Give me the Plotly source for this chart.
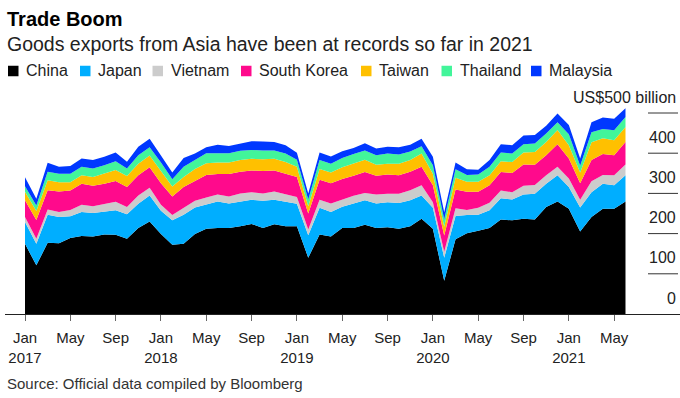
import plotly.graph_objects as go

# ---------------- data ----------------
months = list(range(54))  # Jan 2017 .. Jun 2021 (month index)

china = [175, 121, 177, 176, 189, 194, 193, 198, 197, 187, 214, 230,
         199, 172, 175, 199, 212, 214, 214, 218, 224, 214, 223, 218,
         218, 140, 198, 193, 214, 214, 222, 214, 216, 212, 218, 237,
         212, 83, 186, 201, 207, 214, 235, 233, 237, 235, 266, 280,
         262, 205, 241, 262, 262, 280]
japan = [54, 54, 70, 65, 54, 60, 58, 57, 61, 61, 60, 65,
         58, 61, 72, 66, 61, 66, 61, 61, 60, 68, 61, 61,
         56, 56, 66, 61, 53, 61, 61, 61, 62, 64, 65, 58,
         52, 57, 58, 45, 40, 44, 53, 52, 60, 64, 58, 65,
         54, 60, 62, 62, 58, 65]
vietnam = [12, 12, 13, 13, 16, 18, 17, 19, 21, 18, 21, 19,
           15, 13, 17, 17, 17, 17, 17, 21, 19, 18, 21, 19,
           17, 14, 20, 21, 17, 19, 18, 22, 21, 23, 25, 25,
           14, 15, 19, 13, 17, 19, 19, 18, 22, 22, 21, 21,
           21, 19, 27, 22, 25, 27]
south_korea = [42, 47, 48, 51, 48, 52, 51, 50, 52, 50, 50, 51,
               53, 46, 52, 50, 56, 51, 56, 54, 54, 56, 52, 51,
               50, 40, 50, 50, 52, 50, 52, 47, 48, 46, 46, 46,
               42, 40, 47, 45, 40, 43, 46, 48, 53, 50, 50, 56,
               50, 41, 53, 52, 50, 56]
taiwan = [21, 22, 25, 23, 21, 21, 22, 25, 27, 27, 29, 29,
          30, 25, 25, 29, 29, 29, 29, 29, 29, 29, 29, 29,
          25, 18, 27, 27, 29, 31, 31, 27, 27, 29, 29, 33,
          29, 22, 29, 25, 25, 25, 27, 27, 30, 32, 33, 36,
          33, 27, 44, 39, 37, 37]
thailand = [14, 14, 21, 21, 21, 21, 21, 21, 22, 19, 21, 21,
            22, 18, 25, 21, 25, 23, 23, 23, 22, 22, 21, 21,
            18, 17, 22, 22, 23, 23, 23, 24, 25, 23, 21, 18,
            21, 18, 21, 17, 18, 21, 22, 21, 20, 21, 21, 19,
            27, 17, 25, 23, 25, 25]
malaysia = [22, 17, 22, 17, 19, 21, 21, 21, 22, 17, 21, 21,
            17, 17, 22, 17, 15, 21, 18, 18, 22, 22, 21, 21,
            17, 15, 19, 18, 17, 15, 18, 17, 17, 18, 17, 19,
            21, 18, 17, 14, 12, 17, 20, 21, 22, 21, 19, 22,
            23, 18, 25, 29, 29, 22]

series_names = ["China", "Japan", "Vietnam", "South Korea", "Taiwan", "Thailand", "Malaysia"]
series_values = [china, japan, vietnam, south_korea, taiwan, thailand, malaysia]
series_colors = ["#000000", "#00AEFF", "#CCCCCC", "#FF0A8C", "#FFC000", "#42F59A", "#0038FF"]

tick_vals = list(range(0, 53, 4))
tick_text = ["Jan<br>2017", "May", "Sep", "Jan<br>2018", "May", "Sep",
             "Jan<br>2019", "May", "Sep", "Jan<br>2020", "May", "Sep",
             "Jan<br>2021", "May"]
y_tick_vals = [0, 100, 200, 300, 400, 500]
y_tick_text = ["0", "100", "200", "300", "400", "US$500 billion"]

# ---------------- layout geometry ----------------
W, H = 680, 398
L, R, T, B = 5, 0, 96, 84
PX_PER_MONTH = 11.33
X0_PX = 25  # pixel of month 0
x_min = (L - X0_PX) / PX_PER_MONTH
x_max = (W - R - X0_PX) / PX_PER_MONTH
PX_PER_UNIT = 0.402
y_max = (H - B - T) / PX_PER_UNIT

def px2x(px):
    return (px - L) / (W - L - R)

def px2y(py):
    return (H - B - py) / (H - T - B)

FONT = "Liberation Sans, Arial, sans-serif"

fig = go.Figure()
for name, vals, col in zip(series_names, series_values, series_colors):
    fig.add_trace(go.Scatter(
        x=months, y=vals, name=name, mode="lines",
        stackgroup="one", line=dict(width=0, color=col),
        fillcolor=col, showlegend=False, hoverinfo="x+y+name"))

shapes = []
annotations = []

# right-side gridline segments and labels
for v, t in zip(y_tick_vals, y_tick_text):
    if v > 0:
        shapes.append(dict(type="line", xref="paper", yref="y",
                           x0=px2x(648), x1=px2x(678), y0=v, y1=v,
                           line=dict(color="#333333", width=1)))
    annotations.append(dict(xref="paper", yref="y", x=px2x(678), y=v,
                            xanchor="right", yanchor="middle", yshift=16,
                            text=t, showarrow=False,
                            font=dict(family=FONT, size=16, color="#222222")))

# titles
annotations.append(dict(xref="paper", yref="paper", x=px2x(5), y=px2y(19),
                        xanchor="left", yanchor="middle", showarrow=False,
                        text="<b>Trade Boom</b>",
                        font=dict(family=FONT, size=20, color="#000000")))
annotations.append(dict(xref="paper", yref="paper", x=px2x(5), y=px2y(44),
                        xanchor="left", yanchor="middle", showarrow=False,
                        text="Goods exports from Asia have been at records so far in 2021",
                        font=dict(family=FONT, size=19.5, color="#222222")))
annotations.append(dict(xref="paper", yref="paper", x=px2x(5), y=px2y(383),
                        xanchor="left", yanchor="middle", showarrow=False,
                        text="Source: Official data compiled by Bloomberg",
                        font=dict(family=FONT, size=15, color="#333333")))

# legend (squares + labels)
legend_sq_px = [8, 80, 152.5, 241, 361, 441.5, 531]
SQ = 10.5
LEG_Y = 71
for name, col, sx in zip(series_names, series_colors, legend_sq_px):
    shapes.append(dict(type="rect", xref="paper", yref="paper",
                       x0=px2x(sx), x1=px2x(sx + SQ),
                       y0=px2y(LEG_Y + SQ / 2), y1=px2y(LEG_Y - SQ / 2),
                       fillcolor=col, line=dict(width=0)))
    annotations.append(dict(xref="paper", yref="paper", x=px2x(sx + SQ + 5.5),
                            y=px2y(LEG_Y), xanchor="left", yanchor="middle",
                            showarrow=False, text=name,
                            font=dict(family=FONT, size=16, color="#222222")))

fig.update_layout(
    width=W, height=H,
    margin=dict(l=L, r=R, t=T, b=B, pad=0),
    paper_bgcolor="white", plot_bgcolor="white",
    showlegend=False,
    shapes=shapes, annotations=annotations,
    xaxis=dict(range=[x_min, x_max], tickvals=tick_vals, ticktext=tick_text,
               showgrid=False, zeroline=False, showline=True,
               linecolor="#222222", linewidth=1,
               ticks="outside", ticklen=6, tickcolor="#666666", tickwidth=1,
               ticklabelstandoff=4,
               tickfont=dict(family=FONT, size=15, color="#222222")),
    yaxis=dict(range=[0, y_max], showgrid=False, zeroline=False,
               showticklabels=False, showline=False),
)

fig.write_html("out.html",
               config={"displayModeBar": False},
               post_script="document.body.style.margin='0';document.body.style.padding='0';")
